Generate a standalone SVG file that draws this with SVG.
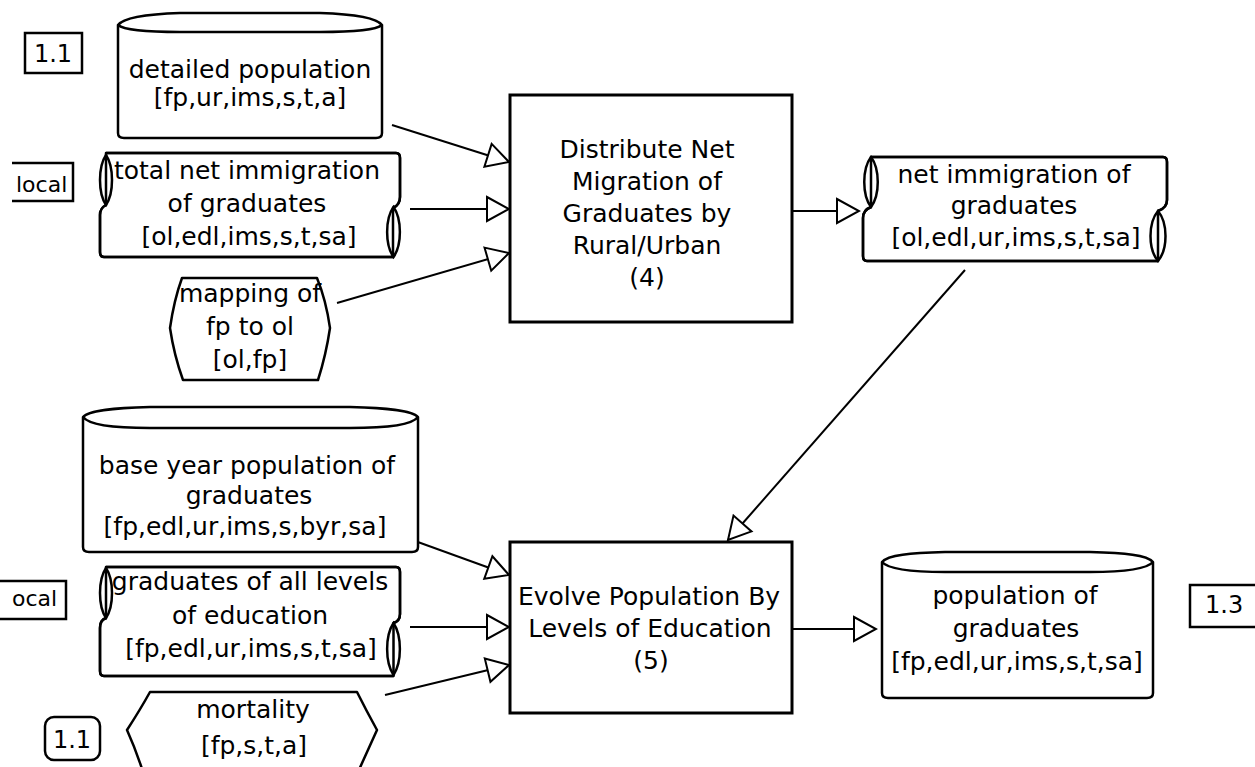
<svg xmlns="http://www.w3.org/2000/svg" width="1255" height="767" viewBox="0 0 1255 767">
<style>
.shape{fill:#fff;stroke:#000;stroke-width:2.5;stroke-linejoin:round}
.line{fill:none;stroke:#000;stroke-width:2.5}
.oval{fill:none;stroke:#000;stroke-width:2.5}
.txt{font-family:"DejaVu Sans","Liberation Sans",sans-serif;font-size:25px;text-anchor:middle;fill:#000}
.lbl{font-family:"DejaVu Sans","Liberation Sans",sans-serif;font-size:22px;fill:#000}
.num{font-family:"DejaVu Sans","Liberation Sans",sans-serif;font-size:24px;fill:#000}
.conn{fill:none;stroke:#000;stroke-width:2}
</style>
<defs>
<marker id="arr" markerUnits="userSpaceOnUse" markerWidth="26" markerHeight="28" viewBox="-2 -14 26 28" refX="22" refY="0" orient="auto">
<path d="M0,-12 L22,0 L0,12 Z" fill="#fff" stroke="#000" stroke-width="2"/>
</marker>
</defs>
<rect width="1255" height="767" fill="#fff"/>

<g id="connectors">
<line class="conn" x1="392" y1="125" x2="509" y2="162" marker-end="url(#arr)"/>
<line class="conn" x1="410" y1="209" x2="509" y2="209" marker-end="url(#arr)"/>
<line class="conn" x1="337" y1="303" x2="509" y2="253" marker-end="url(#arr)"/>
<line class="conn" x1="792" y1="211" x2="859" y2="211" marker-end="url(#arr)"/>
<line class="conn" x1="965" y1="270" x2="728" y2="540" marker-end="url(#arr)"/>
<line class="conn" x1="404" y1="537" x2="509" y2="575" marker-end="url(#arr)"/>
<line class="conn" x1="410" y1="627" x2="509" y2="627" marker-end="url(#arr)"/>
<line class="conn" x1="385" y1="695" x2="509" y2="665" marker-end="url(#arr)"/>
<line class="conn" x1="792" y1="629" x2="876" y2="629" marker-end="url(#arr)"/>
</g>

<g id="label-1-1-top">
<rect x="25" y="33" width="57" height="40" fill="#fff" stroke="#000" stroke-width="2.5"/>
<text class="num" x="53" y="62" text-anchor="middle">1.1</text>
</g>

<g id="detailed-population">
<path class="shape" d="M118,25 L118,133 Q118,138 124,138 L376,138 Q382,138 382,133 L382,25 C376,17 350,14 320,13 L180,13 C150,14 124,17 118,25 Z"/>
<path class="line" d="M118,25 C124,30 150,32 180,32 L320,32 C350,32 376,30 382,25"/>
<text class="txt" x="250" y="78">detailed population</text>
<text class="txt" x="250" y="106">[fp,ur,ims,s,t,a]</text>
</g>

<g id="label-local-top">
<path d="M12,163 L73,163 L73,201 L12,201" fill="#fff" stroke="#000" stroke-width="2.5"/>
<text class="lbl" x="16" y="192">local</text>
</g>

<g id="total-net-immigration">
<path class="shape" d="M106,153 L396,153 Q400,153 400,158 L400,197 Q400,205 393,208 L393,257 L104,257 Q100,257 100,252 L100,215 Q100,208 106,205 Z"/>
<path class="line" d="M106,153 L396,153 Q400,153 400,158 L400,197 Q400,205 393,208 M393,257 L104,257 Q100,257 100,252 L100,215 Q100,208 106,205"/>
<text class="txt" x="247" y="179">total net immigration</text>
<text class="txt" x="247" y="212">of graduates</text>
<text class="txt" x="249" y="245">[ol,edl,ims,s,t,sa]</text>
<path class="oval" d="M106,155 C114,167 114,193 106,205 C98,193 98,167 106,155 Z"/>
<path class="oval" d="M393.5,207 C402,219 402,245 393.5,257 C385,245 385,219 393.5,207 Z"/>
</g>

<g id="mapping">
<path class="shape" d="M182,278 L317,278 Q326,300 330,328 Q326,355 318,380 L183,380 Q174,355 170,328 Q174,300 182,278 Z"/>
<text class="txt" x="250" y="302">mapping of</text>
<text class="txt" x="250" y="335">fp to ol</text>
<text class="txt" x="250" y="368">[ol,fp]</text>
</g>

<g id="distribute">
<rect x="510" y="95" width="282" height="227" fill="#fff" stroke="#000" stroke-width="3"/>
<text class="txt" x="647" y="158">Distribute Net</text>
<text class="txt" x="647" y="190">Migration of</text>
<text class="txt" x="647" y="222">Graduates by</text>
<text class="txt" x="647" y="254">Rural/Urban</text>
<text class="txt" x="647" y="286">(4)</text>
</g>

<g id="net-immigration">
<path class="shape" d="M871,157 L1163,157 Q1167,157 1167,162 L1167,200 Q1167,208 1158,211 L1158,261 L867,261 Q863,261 863,256 L863,218 Q863,210 871,207 Z"/>
<path class="line" d="M871,157 L1163,157 Q1167,157 1167,162 L1167,200 Q1167,208 1158,211 M1158,261 L867,261 Q863,261 863,256 L863,218 Q863,210 871,207"/>
<text class="txt" x="1014" y="183">net immigration of</text>
<text class="txt" x="1014" y="214">graduates</text>
<text class="txt" x="1016" y="246">[ol,edl,ur,ims,s,t,sa]</text>
<path class="oval" d="M871,157 C880,169 880,195 871,207 C862,195 862,169 871,157 Z"/>
<path class="oval" d="M1158,211 C1168,223 1168,249 1158,261 C1148,249 1148,223 1158,211 Z"/>
</g>

<g id="base-year-population">
<path class="shape" d="M83,417 L83,547 Q83,552 89,552 L412,552 Q418,552 418,547 L418,417 C412,410 385,408 350,407 L150,407 C115,408 89,410 83,417 Z"/>
<path class="line" d="M83,417 C89,425 115,428 150,428 L350,428 C385,428 412,425 418,417"/>
<text class="txt" x="247" y="474">base year population of</text>
<text class="txt" x="249" y="504">graduates</text>
<text class="txt" x="245" y="535">[fp,edl,ur,ims,s,byr,sa]</text>
</g>

<g id="label-local-bottom">
<path d="M0,581 L66,581 L66,619 L0,619" fill="#fff" stroke="#000" stroke-width="2.5"/>
<text class="lbl" x="12" y="606">ocal</text>
</g>

<g id="graduates-all-levels">
<path class="shape" d="M106,567 L396,567 Q400,567 400,572 L400,614 Q400,621 393.5,623 L393.5,676 L104,676 Q100,676 100,671 L100,628 Q100,620 106,618 Z"/>
<path class="line" d="M106,567 L396,567 Q400,567 400,572 L400,614 Q400,621 393.5,623 M393.5,676 L104,676 Q100,676 100,671 L100,628 Q100,620 106,618"/>
<text class="txt" x="250" y="590">graduates of all levels</text>
<text class="txt" x="250" y="624">of education</text>
<text class="txt" x="251" y="657">[fp,edl,ur,ims,s,t,sa]</text>
<path class="oval" d="M106,568 C114,580 114,606 106,618 C98,606 98,580 106,568 Z"/>
<path class="oval" d="M393.5,623 C402,636 402,662 393.5,675 C385,662 385,636 393.5,623 Z"/>
</g>

<g id="label-1-1-bottom">
<rect x="45" y="717" width="55" height="43" rx="9" fill="#fff" stroke="#000" stroke-width="2.5"/>
<text class="num" x="72" y="748" text-anchor="middle">1.1</text>
</g>

<g id="mortality">
<path class="shape" d="M143,772 Q136,750 127,730 Q140,710 150,692 L357,692 Q366,710 377,730 Q368,750 358,772"/>
<text class="txt" x="253" y="718">mortality</text>
<text class="txt" x="254" y="754">[fp,s,t,a]</text>
</g>

<g id="evolve">
<rect x="510" y="542" width="282" height="171" fill="#fff" stroke="#000" stroke-width="3"/>
<text class="txt" x="649" y="605">Evolve Population By</text>
<text class="txt" x="650" y="637">Levels of Education</text>
<text class="txt" x="651" y="669">(5)</text>
</g>

<g id="population-of-graduates">
<path class="shape" d="M882,562 L882,693 Q882,698 888,698 L1147,698 Q1153,698 1153,693 L1153,562 C1147,555 1125,553 1090,552 L945,552 C910,553 888,555 882,562 Z"/>
<path class="line" d="M882,562 C888,569 910,572 945,572 L1090,572 C1125,572 1147,569 1153,562"/>
<text class="txt" x="1015" y="604">population of</text>
<text class="txt" x="1016" y="637">graduates</text>
<text class="txt" x="1017" y="670">[fp,edl,ur,ims,s,t,sa]</text>
</g>

<g id="label-1-3">
<path d="M1255,585 L1190,585 L1190,627 L1255,627" fill="#fff" stroke="#000" stroke-width="2.5"/>
<text class="num" x="1205" y="613">1.3</text>
</g>
</svg>
